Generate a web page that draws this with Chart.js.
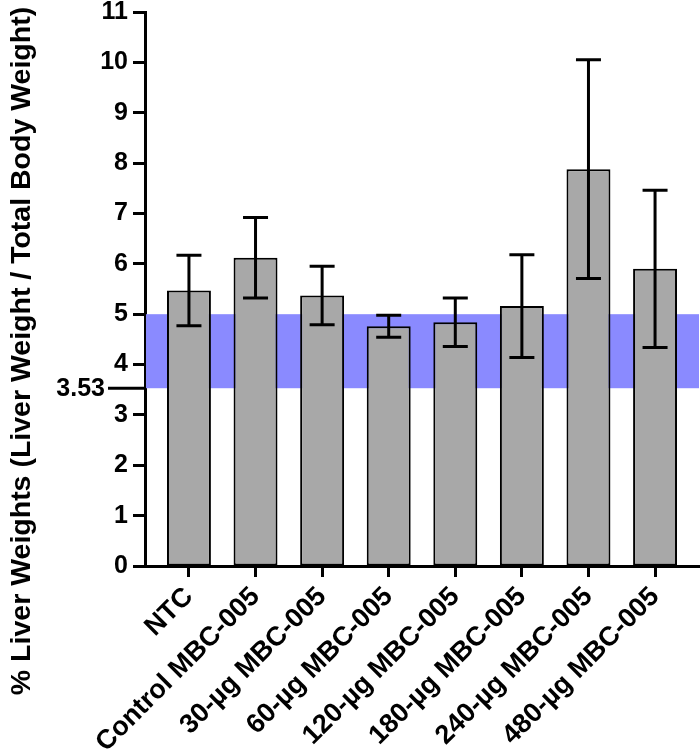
<!DOCTYPE html>
<html>
<head>
<meta charset="utf-8">
<script src="https://cdn.jsdelivr.net/npm/chart.js@4"></script>
<style>
  body { margin: 0; background: #fff; }
</style>
</head>
<body>
<canvas id="liverChart" width="700" height="756"></canvas>
<script>
/* Data */
const groups = ['NTC', 'Control MBC-005', '30-\u00b5g MBC-005', '60-\u00b5g MBC-005',
  '120-\u00b5g MBC-005', '180-\u00b5g MBC-005', '240-\u00b5g MBC-005', '480-\u00b5g MBC-005'];
const means = [5.47, 6.12, 5.37, 4.76, 4.84, 5.16, 7.88, 5.90];
const sds = [0.70, 0.80, 0.58, 0.22, 0.48, 1.02, 2.17, 1.56];
const normalLow = 3.53;
const normalHigh = 5.0;
const yTitle = '% Liver Weights (Liver Weight / Total Body Weight)';

const fontFamily = '"Liberation Sans", Arial, sans-serif';

// normal range band, drawn behind the bars
const bandPlugin = {
  id: 'band',
  beforeDatasetsDraw(chart) {
    const ctx = chart.ctx, area = chart.chartArea, y = chart.scales.y;
    ctx.save();
    ctx.fillStyle = 'rgb(138,138,255)';
    ctx.fillRect(area.left + 1, y.getPixelForValue(normalHigh), area.right - area.left - 1,
      y.getPixelForValue(normalLow) - y.getPixelForValue(normalHigh));
    ctx.restore();
  },
  afterDraw(chart) {
    const ctx = chart.ctx, area = chart.chartArea, y = chart.scales.y;
    const py = y.getPixelForValue(normalLow);
    ctx.save();
    // long tick + label for the lower bound
    ctx.strokeStyle = '#000';
    ctx.lineWidth = 3;
    ctx.beginPath();
    ctx.moveTo(area.left - 37, py);
    ctx.lineTo(area.left, py);
    ctx.stroke();
    ctx.fillStyle = '#000';
    ctx.font = 'bold 25px ' + fontFamily;
    ctx.textAlign = 'right';
    ctx.textBaseline = 'middle';
    ctx.fillText(normalLow.toFixed(2), area.left - 40, py + 1);
    // y axis title
    ctx.translate(22, 351);
    ctx.rotate(-Math.PI / 2);
    ctx.font = 'bold 28.5px ' + fontFamily;
    ctx.textAlign = 'center';
    ctx.fillText(yTitle, 0, 0);
    ctx.restore();
  }
};

// mean +/- SD error bars
const errorBarPlugin = {
  id: 'errorBars',
  afterDatasetsDraw(chart) {
    const ctx = chart.ctx, x = chart.scales.x, y = chart.scales.y;
    ctx.save();
    ctx.strokeStyle = '#000';
    ctx.lineWidth = 3;
    means.forEach((m, i) => {
      const px = x.getPixelForValue(i);
      const top = y.getPixelForValue(m + sds[i]);
      const bot = y.getPixelForValue(m - sds[i]);
      ctx.beginPath();
      ctx.moveTo(px, top); ctx.lineTo(px, bot);
      ctx.moveTo(px - 12.5, top); ctx.lineTo(px + 12.5, top);
      ctx.moveTo(px - 12.5, bot); ctx.lineTo(px + 12.5, bot);
      ctx.stroke();
    });
    ctx.restore();
  }
};

const ctxLiver = document.getElementById('liverChart').getContext('2d');

const liverChart = new Chart(ctxLiver, {
  type: 'bar',
  data: {
    datasets: [{
      data: means.map((m, i) => ({ x: i, y: m })),
      backgroundColor: '#a8a8a8',
      borderColor: '#000',
      borderWidth: 2,
      borderSkipped: false,
      categoryPercentage: 1,
      barPercentage: 0.66
    }]
  },
  options: {
    responsive: false,
    animation: false,
    layout: { padding: { top: 12, right: 1, left: 0, bottom: 0 } },
    plugins: {
      legend: { display: false },
      tooltip: { enabled: false }
    },
    scales: {
      x: {
        type: 'linear',
        offset: false,
        min: -0.66,
        max: 7.66,
        afterBuildTicks: (scale) => {
          scale.ticks = groups.map((g, i) => ({ value: i }));
        },
        afterFit: (scale) => {
          scale.height = 190;
          scale.paddingLeft = 0;
          scale.paddingRight = 0;
        },
        border: { display: true, color: '#000', width: 3 },
        grid: { offset: false, drawOnChartArea: false, drawTicks: true, tickLength: 11, tickWidth: 3, tickColor: '#000' },
        ticks: {
          autoSkip: false,
          maxRotation: 45,
          minRotation: 45,
          padding: 4,
          color: '#000',
          font: { family: fontFamily, size: 27, weight: 'bold' },
          callback: (v) => groups[v]
        }
      },
      y: {
        min: 0,
        max: 11,
        afterFit: (scale) => {
          scale.width = 145;
          scale.paddingTop = 0;
          scale.paddingBottom = 0;
        },
        border: { display: true, color: '#000', width: 3 },
        grid: { drawOnChartArea: false, drawTicks: true, tickLength: 12, tickWidth: 3, tickColor: '#000' },
        ticks: {
          stepSize: 1,
          padding: 5,
          color: '#000',
          font: { family: fontFamily, size: 25, weight: 'bold' }
        }
      }
    }
  },
  plugins: [bandPlugin, errorBarPlugin]
});
</script>
</body>
</html>
